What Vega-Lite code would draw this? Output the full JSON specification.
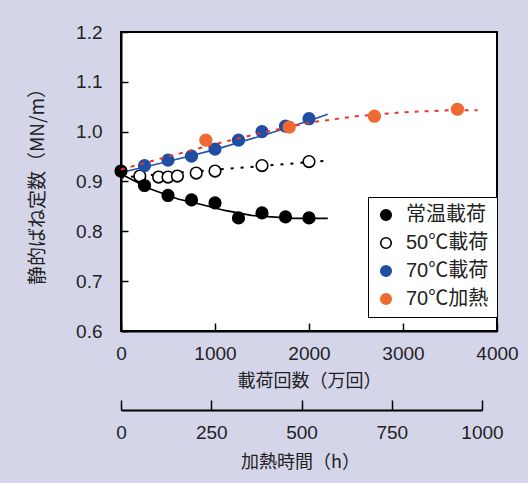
{
  "$schema": "https://vega.github.io/schema/vega-lite/v6.json",
  "width": 376,
  "height": 299,
  "autosize": {"type": "none"},
  "padding": {"left": 121, "top": 32, "right": 31, "bottom": 152},
  "background": "#d5d5ea",
  "config": {
    "view": {"fill": "white", "stroke": "black", "strokeWidth": 2},
    "font": "Liberation Sans, Noto Sans CJK JP, sans-serif",
    "axis": {
      "grid": false,
      "domainColor": "black",
      "domainWidth": 2,
      "tickColor": "black",
      "tickWidth": 1.5,
      "labelColor": "#222",
      "titleColor": "#222",
      "labelFont": "Liberation Sans, Noto Sans CJK JP, sans-serif",
      "titleFont": "Noto Sans CJK JP, sans-serif",
      "labelFontSize": 19,
      "titleFontSize": 18,
      "titleFontWeight": "normal"
    },
    "legend": {
      "labelFont": "Liberation Sans, Noto Sans CJK JP, sans-serif",
      "labelFontSize": 20,
      "labelColor": "#222"
    }
  },
  "datasets": {
    "points": [
      {"series": "50℃載荷", "n": 200, "v": 0.911},
      {"series": "50℃載荷", "n": 400, "v": 0.909},
      {"series": "50℃載荷", "n": 500, "v": 0.909},
      {"series": "50℃載荷", "n": 600, "v": 0.911},
      {"series": "50℃載荷", "n": 800, "v": 0.917},
      {"series": "50℃載荷", "n": 1000, "v": 0.921},
      {"series": "50℃載荷", "n": 1500, "v": 0.932},
      {"series": "50℃載荷", "n": 2000, "v": 0.94},
      {"series": "70℃載荷", "n": 250, "v": 0.932},
      {"series": "70℃載荷", "n": 500, "v": 0.943},
      {"series": "70℃載荷", "n": 750, "v": 0.951},
      {"series": "70℃載荷", "n": 1000, "v": 0.965},
      {"series": "70℃載荷", "n": 1250, "v": 0.983},
      {"series": "70℃載荷", "n": 1500, "v": 1.0},
      {"series": "70℃載荷", "n": 1750, "v": 1.011},
      {"series": "70℃載荷", "n": 2000, "v": 1.026},
      {"series": "常温載荷", "n": 0, "v": 0.921},
      {"series": "常温載荷", "n": 250, "v": 0.892},
      {"series": "常温載荷", "n": 500, "v": 0.872},
      {"series": "常温載荷", "n": 750, "v": 0.863},
      {"series": "常温載荷", "n": 1000, "v": 0.857},
      {"series": "常温載荷", "n": 1250, "v": 0.827},
      {"series": "常温載荷", "n": 1500, "v": 0.837},
      {"series": "常温載荷", "n": 1750, "v": 0.829},
      {"series": "常温載荷", "n": 2000, "v": 0.827}
    ],
    "heated": [
      {"series": "70℃加熱", "h": 235, "v": 0.983},
      {"series": "70℃加熱", "h": 466, "v": 1.009},
      {"series": "70℃加熱", "h": 702, "v": 1.031},
      {"series": "70℃加熱", "h": 932, "v": 1.045}
    ],
    "fits": [
      {"fit": "常温載荷", "n": 0, "v": 0.915},
      {"fit": "常温載荷", "n": 300, "v": 0.886},
      {"fit": "常温載荷", "n": 606, "v": 0.865},
      {"fit": "常温載荷", "n": 854, "v": 0.854},
      {"fit": "常温載荷", "n": 1103, "v": 0.842},
      {"fit": "常温載荷", "n": 1386, "v": 0.832},
      {"fit": "常温載荷", "n": 1599, "v": 0.829},
      {"fit": "常温載荷", "n": 1848, "v": 0.826},
      {"fit": "常温載荷", "n": 2200, "v": 0.826},
      {"fit": "50℃載荷", "n": 0, "v": 0.908},
      {"fit": "50℃載荷", "n": 2200, "v": 0.942},
      {"fit": "70℃載荷", "n": 0, "v": 0.918},
      {"fit": "70℃載荷", "n": 500, "v": 0.940},
      {"fit": "70℃載荷", "n": 1000, "v": 0.964},
      {"fit": "70℃載荷", "n": 1500, "v": 0.992},
      {"fit": "70℃載荷", "n": 2000, "v": 1.022},
      {"fit": "70℃載荷", "n": 2200, "v": 1.035}
    ],
    "heatfit": [
      {"h": 0, "v": 0.924},
      {"h": 130, "v": 0.95},
      {"h": 260, "v": 0.975},
      {"h": 391, "v": 0.998},
      {"h": 521, "v": 1.018},
      {"h": 651, "v": 1.031},
      {"h": 781, "v": 1.039},
      {"h": 911, "v": 1.043},
      {"h": 988, "v": 1.043}
    ]
  },
  "resolve": {"scale": {"x": "independent"}, "axis": {"x": "independent"}},
  "layer": [
    {
      "layer": [
        {
          "data": {"name": "fits"},
          "transform": [{"filter": "datum.fit === '常温載荷'"}],
          "mark": {"type": "line", "color": "black", "strokeWidth": 1.6},
          "encoding": {
            "x": {"field": "n", "type": "quantitative"},
            "y": {"field": "v", "type": "quantitative"}
          }
        },
        {
          "data": {"name": "fits"},
          "transform": [{"filter": "datum.fit === '50℃載荷'"}],
          "mark": {"type": "line", "color": "black", "strokeWidth": 2, "strokeDash": [3, 7]},
          "encoding": {
            "x": {"field": "n", "type": "quantitative"},
            "y": {"field": "v", "type": "quantitative"}
          }
        },
        {
          "data": {"name": "fits"},
          "transform": [{"filter": "datum.fit === '70℃載荷'"}],
          "mark": {"type": "line", "color": "#2356a6", "strokeWidth": 1.6},
          "encoding": {
            "x": {"field": "n", "type": "quantitative"},
            "y": {"field": "v", "type": "quantitative"}
          }
        },
        {
          "data": {"name": "points"},
          "mark": {"type": "point", "filled": true, "size": 135, "strokeWidth": 1.6, "opacity": 1},
          "encoding": {
            "x": {
              "field": "n", "type": "quantitative",
              "scale": {"domain": [0, 4000], "nice": false, "zero": false},
              "axis": {
                "title": "載荷回数（万回）",
                "values": [0, 1000, 2000, 3000, 4000],
                "format": "d",
                "tickSize": -8,
                "labelPadding": 21,
                "titlePadding": 9,
                "labelFlush": false
              }
            },
            "y": {
              "field": "v", "type": "quantitative",
              "scale": {"domain": [0.6, 1.2], "nice": false, "zero": false},
              "axis": {
                "title": "静的ばね定数（MN/m）",
                "titleFontSize": 19,
                "values": [0.6, 0.7, 0.8, 0.9, 1.0, 1.1, 1.2],
                "format": ".1f",
                "tickSize": -7,
                "labelPadding": 26,
                "titlePadding": 28
              }
            },
            "fill": {
              "field": "series", "type": "nominal",
              "scale": {
                "domain": ["常温載荷", "50℃載荷", "70℃載荷", "70℃加熱"],
                "range": ["black", "white", "#1f4fa3", "#ee6a30"]
              },
              "legend": {
                "title": null,
                "orient": "none",
                "legendX": 247,
                "legendY": 165,
                "strokeColor": "black",
                "fillColor": "white",
                "padding": 8,
                "rowPadding": 8,
                "symbolSize": 110,
                "symbolStrokeWidth": 1.6,
                "symbolOpacity": 1,
                "labelOffset": 10
              }
            },
            "stroke": {
              "field": "series", "type": "nominal",
              "scale": {
                "domain": ["常温載荷", "50℃載荷", "70℃載荷", "70℃加熱"],
                "range": ["black", "black", "#1f4fa3", "#ee6a30"]
              },
              "legend": {
                "title": null,
                "orient": "none",
                "legendX": 247,
                "legendY": 165,
                "strokeColor": "black",
                "fillColor": "white",
                "padding": 8,
                "rowPadding": 8,
                "symbolSize": 110,
                "symbolStrokeWidth": 1.6,
                "symbolOpacity": 1,
                "labelOffset": 10
              }
            }
          }
        }
      ]
    },
    {
      "layer": [
        {
          "data": {"name": "heatfit"},
          "mark": {"type": "line", "color": "#e8352f", "strokeWidth": 2, "strokeDash": [4, 6]},
          "encoding": {
            "x": {"field": "h", "type": "quantitative"},
            "y": {"field": "v", "type": "quantitative"}
          }
        },
        {
          "data": {"name": "heated"},
          "mark": {"type": "point", "filled": true, "size": 135, "strokeWidth": 1.6, "opacity": 1},
          "encoding": {
            "x": {
              "field": "h", "type": "quantitative",
              "scale": {"domain": [0, 1000], "range": [0, 361], "nice": false, "zero": false},
              "axis": {
                "title": "加熱時間（h）",
                "orient": "bottom",
                "offset": 79,
                "values": [0, 250, 500, 750, 1000],
                "format": "d",
                "tickSize": -10,
                "labelPadding": 23,
                "titlePadding": 11,
                "titleX": 179,
                "labelFlush": false
              }
            },
            "y": {"field": "v", "type": "quantitative"},
            "fill": {"field": "series", "type": "nominal"},
            "stroke": {"field": "series", "type": "nominal"}
          }
        }
      ]
    }
  ]
}
